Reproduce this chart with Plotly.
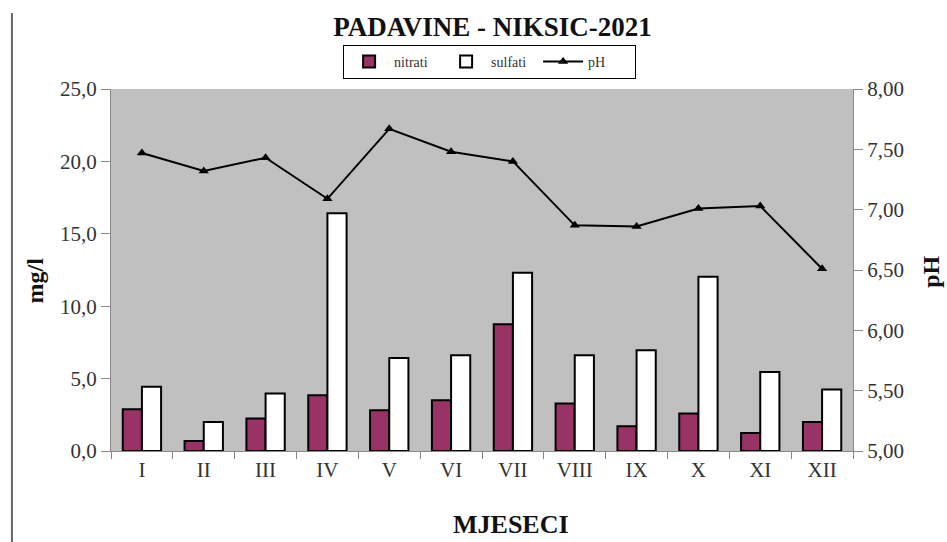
import plotly.graph_objects as go

months = ["I", "II", "III", "IV", "V", "VI", "VII", "VIII", "IX", "X", "XI", "XII"]
nitrati = [2.88, 0.69, 2.24, 3.85, 2.81, 3.51, 8.76, 3.28, 1.71, 2.59, 1.24, 2.00]
sulfati = [4.43, 2.00, 3.97, 16.42, 6.43, 6.62, 12.31, 6.62, 6.96, 12.03, 5.46, 4.25]
ph = [7.47, 7.32, 7.43, 7.09, 7.67, 7.48, 7.40, 6.87, 6.86, 7.01, 7.03, 6.51]

serif = "Liberation Serif, Times New Roman, serif"
tickc = "#888888"
labc = "#333333"

fig = go.Figure()
fig.add_trace(go.Bar(x=months, y=nitrati, name="nitrati",
                     marker=dict(color="#993366", line=dict(color="black", width=2))))
fig.add_trace(go.Bar(x=months, y=sulfati, name="sulfati",
                     marker=dict(color="white", line=dict(color="black", width=2))))
fig.add_trace(go.Scatter(x=months, y=ph, name="pH", yaxis="y2", mode="lines+markers",
                         line=dict(color="black", width=2),
                         marker=dict(symbol="triangle-up", size=9, color="black")))

fig.update_layout(
    template="none",
    width=947, height=542,
    margin=dict(l=111, r=94, t=89, b=91, autoexpand=False),
    paper_bgcolor="white", plot_bgcolor="#C0C0C0",
    separators=", ",
    barmode="group", bargap=0.38, bargroupgap=0,
    font=dict(family=serif, color=labc, size=21),
    title=dict(text="<b>PADAVINE - NIKSIC-2021</b>", x=0.52, xanchor="center",
               xref="container", yref="container",
               y=1 - 27 / 542, yanchor="middle",
               font=dict(family=serif, size=27, color="#111111")),
    legend=dict(orientation="h", xref="container", yref="container",
                x=0.517, xanchor="center", y=1 - 62 / 542, yanchor="middle",
                bordercolor="black", borderwidth=1, bgcolor="white",
                font=dict(family=serif, size=14, color=labc),
                itemwidth=40, tracegroupgap=0,
                entrywidth=42, entrywidthmode="pixels"),
    xaxis=dict(range=[-0.5, 11.5], showgrid=False, ticks="outside", tickson="boundaries",
               ticklen=7, tickcolor=tickc, showline=True, linecolor=tickc, automargin=False,
               tickfont=dict(family=serif, size=21, color=labc)),
    yaxis=dict(range=[0, 25], dtick=5, tickformat=".1f", showgrid=False,
               ticks="outside", ticklen=9, tickcolor=tickc, automargin=False,
               showline=True, linecolor=tickc, zeroline=False,
               tickfont=dict(family=serif, size=21, color=labc)),
    yaxis2=dict(range=[5, 8], dtick=0.5, tickformat=".2f", overlaying="y", side="right",
                showgrid=False, ticks="outside", ticklen=9, tickcolor=tickc,
                automargin=False,
                showline=True, linecolor=tickc, zeroline=False,
                tickfont=dict(family=serif, size=21, color=labc)),
    shapes=[dict(type="line", xref="paper", yref="paper",
                 x0=-0.1335, x1=-0.1335, y0=-0.26, y1=1.21,
                 line=dict(color="#666666", width=2))],
    annotations=[
        dict(text="<b>MJESECI</b>", xref="paper", yref="paper",
             x=0.539, y=-0.204, xanchor="center", yanchor="middle",
             showarrow=False, font=dict(family=serif, size=26, color="#111111")),
        dict(text="<b>mg/l</b>", xref="paper", yref="paper",
             x=-0.102, y=0.472, xanchor="center", yanchor="middle",
             textangle=-90, showarrow=False,
             font=dict(family=serif, size=24, color="#111111")),
        dict(text="<b>pH</b>", xref="paper", yref="paper",
             x=1.106, y=0.494, xanchor="center", yanchor="middle",
             textangle=-90, showarrow=False,
             font=dict(family=serif, size=24, color="#111111")),
    ],
)

fig.write_html("out.html", config={"displayModeBar": False},
               post_script="document.body.style.margin='0';document.body.style.overflow='hidden';")
